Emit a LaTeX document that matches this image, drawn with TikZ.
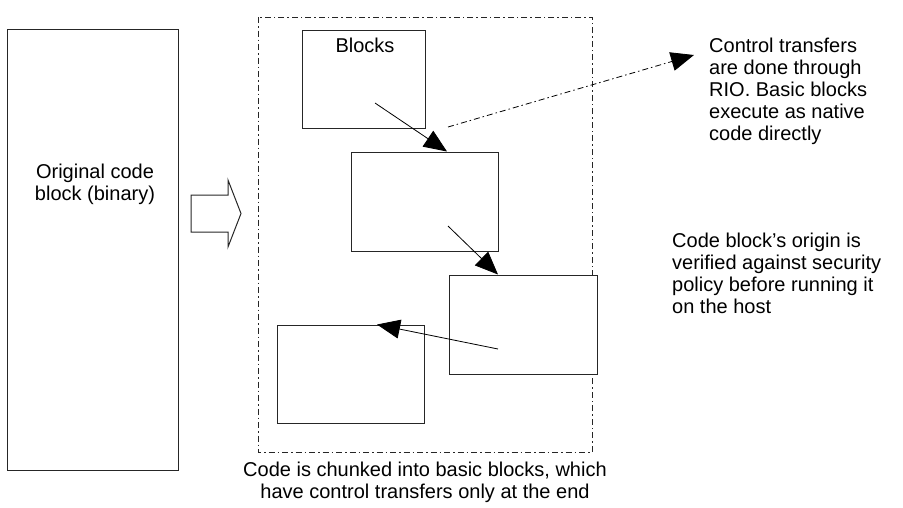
\documentclass[tikz,border=0pt]{standalone}
\usepackage{fontspec}
\setmainfont{Liberation Sans}
\usetikzlibrary{arrows.meta,positioning}

\tikzset{
	blockbox/.style={draw=black!85, fill=white, line width=1pt, inner sep=0pt},
	note/.style={inner sep=0pt, align=left, font=\fontsize{20}{22}\selectfont},
	flow/.style={line width=0.8pt, -{Triangle[length=23pt,width=19pt]}},
	dashdot/.style={line width=0.8pt, dash pattern=on 6pt off 3pt on 1.5pt off 3pt}
}

\begin{document}
\begin{tikzpicture}[x=1pt,y=-1pt]
		\definecolor{edge}{rgb}{0.15,0.15,0.15}
		\useasboundingbox (0,0) rectangle (903,507);

		% original binary
		\node[blockbox, minimum width=171pt, minimum height=441pt] (orig) at (92.5,249.5) {};
		\node[note, align=center] (origtxt) at (95,184) {Original code\\block (binary)};

		% hollow arrow
		\draw[line width=1pt, draw=edge]
		      (191,195)
		   -- (228,195)
		   -- (228,180)
		   -- (241,213.5)
		   -- (228,247)
		   -- (228,232)
		   -- (191,232)
		   -- cycle;

		% basic block area
		\draw[dashdot, draw=edge] (258,17) rectangle (592,452);

		\node[blockbox, minimum width=123pt, minimum height=98pt] (blk1) at (363.5,79) {};
		\node[note] (blktxt) at (365,45) {Blocks};
		\node[blockbox, minimum width=147pt, minimum height=99pt] (blk2) at (424.5,201.5) {};
		\node[blockbox, minimum width=148pt, minimum height=99pt] (blk3) at (523,324.5) {};
		\node[blockbox, minimum width=147pt, minimum height=98pt] (blk4) at (350.5,374) {};

		\coordinate (s1) at (375,103);
		\coordinate (s2) at (448,226);
		\coordinate (s3) at (498,349);
		\coordinate (s4) at (448,127);
		\coordinate (rio) at (694,55);

		\draw[flow] (s1) -- (blk2.north -| 447,0);
		\draw[flow] (s2) -- (blk3.north -| 498,0);
		\draw[flow] (s3) -- (blk4.north -| 377,0);
		\draw[flow, dashdot] (s4) -- (rio);

		% notes
		\node[note, anchor=north west] (riotxt) at (709,38) {Control transfers\\are done through\\RIO. Basic blocks\\execute as native\\code directly};
		\node[note, anchor=north west] (chktxt) at (672,233) {Code block’s origin is\\verified against security\\policy before running it\\on the host};
		\node[note, align=center] (captxt) at (425,482) {Code is chunked into basic blocks, which\\have control transfers only at the end};
	\end{tikzpicture}
\end{document}
